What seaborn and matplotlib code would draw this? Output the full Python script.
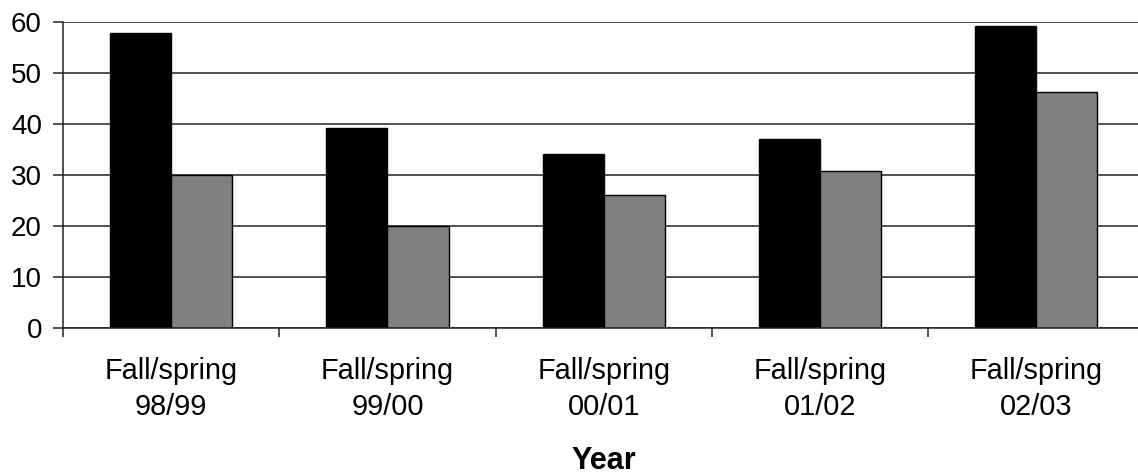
import matplotlib
matplotlib.use("Agg")
import matplotlib.pyplot as plt
import seaborn as sns
import pandas as pd
import numpy as np

# Category labels and values for the two series
years = ["Fall/spring\n98/99", "Fall/spring\n99/00", "Fall/spring\n00/01",
         "Fall/spring\n01/02", "Fall/spring\n02/03"]
series_names = ["Series 1", "Series 2"]
series_1 = [58.0, 39.3, 34.1, 37.1, 59.2]
series_2 = [30.0, 20.0, 26.2, 30.8, 46.3]
y_ticks = [0, 10, 20, 30, 40, 50, 60]

df = pd.DataFrame({
    "Year": years * 2,
    "Value": series_1 + series_2,
    "Series": [series_names[0]] * len(years) + [series_names[1]] * len(years),
})

sns.set_theme(style="white")
plt.rcParams["font.family"] = ["Liberation Sans", "DejaVu Sans"]

fig = plt.figure(figsize=(11.38, 4.74), dpi=100)
W, H = 1138, 474
left, right = 63, 63 + 5 * 216.3
bottom, top = 474 - 328.3, 474 - 22.3
ax = fig.add_axes([left / W, bottom / H, (right - left) / W, (top - bottom) / H])

sns.barplot(data=df, x="Year", y="Value", hue="Series",
            palette=["#000000", "#808080"], width=0.565,
            edgecolor="#000000", linewidth=1.0, saturation=1,
            legend=False, ax=ax, errorbar=None)

ax.set_xlim(-0.5, len(years) - 0.5)
ax.set_ylim(0, 60)
ax.set_yticks(y_ticks)
ax.set_axisbelow(True)
ax.yaxis.grid(True, color="#222222", linewidth=1.1)
ax.xaxis.grid(False)

for side in ["top", "right"]:
    ax.spines[side].set_visible(False)
for side in ["left", "bottom"]:
    ax.spines[side].set_visible(True)
    ax.spines[side].set_color("#222222")
    ax.spines[side].set_linewidth(1.1)

# category boundary ticks on the x axis
ax.set_xticks(np.arange(-0.5, len(years), 1.0), minor=True)
ax.tick_params(axis="x", which="minor", direction="out", length=6.5,
               width=1.1, color="#222222", bottom=True)
ax.tick_params(axis="x", which="major", length=0, pad=21, labelsize=20.8,
               labelcolor="#000000")
ax.tick_params(axis="y", which="major", direction="out", length=7.2,
               width=1.1, color="#222222", left=True, pad=8,
               labelsize=20, labelcolor="#000000")
for lbl in ax.get_xticklabels():
    lbl.set_linespacing(1.35)

ax.set_ylabel("")
ax.set_xlabel("Year", fontsize=22, fontweight="bold", labelpad=18,
              color="#000000")

fig.savefig("out.png", dpi=100, facecolor="white")
